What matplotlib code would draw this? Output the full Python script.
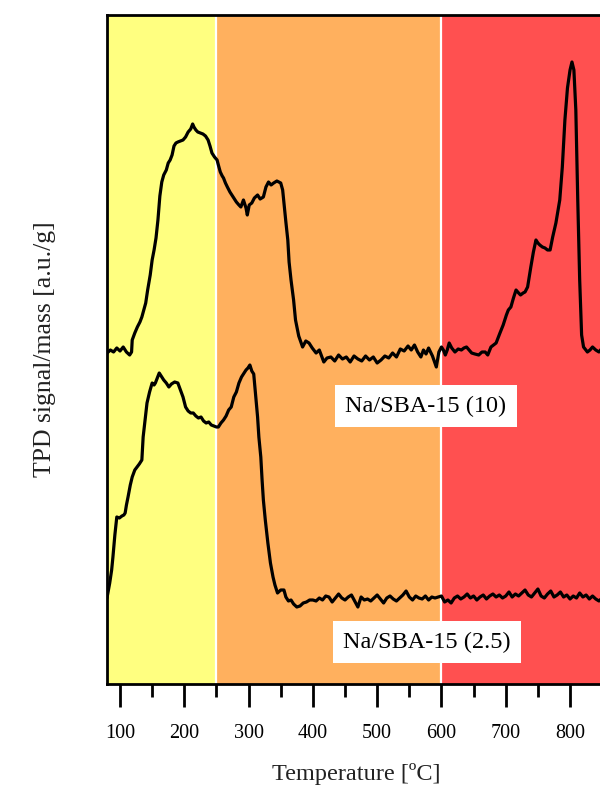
import matplotlib
matplotlib.use("Agg")
import matplotlib.pyplot as plt
from matplotlib.ticker import MultipleLocator

plt.rcParams['font.family'] = ['Liberation Serif', 'DejaVu Serif']

# Temperature regions [ºC]
region_edges = [79, 250, 600, 855]
region_colors = ['#FFFF80', '#FFB05E', '#FF5050']

# Na/SBA-15 (10) trace (temperature, signal in pixel-depth units)
t10 = [80, 85, 90, 95, 100, 105, 110, 115, 118, 119, 123, 127, 131, 134, 137, 140, 143, 147, 150, 153,
       156, 159, 162, 165, 168, 172, 175, 178, 181, 184, 187, 190, 194, 198, 202, 206, 210, 213, 215, 218,
       221, 225, 229, 233, 237, 240, 243, 247, 251, 253, 256, 259, 261, 264, 267, 271, 276, 281, 285, 288,
       292, 296, 298, 301, 305, 309, 314, 318, 323, 327, 331, 335, 339, 344, 350, 353, 355, 358, 361, 363,
       366, 370, 373, 378, 384, 389, 394, 399, 405, 410, 417, 422, 428, 434, 440, 446, 452, 458, 464, 470,
       476, 482, 488, 494, 500, 506, 512, 518, 524, 530, 536, 542, 548, 553, 558, 563, 568, 572, 576, 580,
       586, 592, 596, 600, 603, 606, 609, 612, 616, 621, 626, 631, 635, 639, 643, 647, 652, 658, 663, 668,
       672, 677, 681, 685, 691, 696, 701, 704, 708, 712, 716, 720, 723, 727, 730, 734, 737, 739, 743, 747,
       750, 753, 757, 761, 765, 769, 773, 778, 784, 788, 792, 796, 800, 803, 806, 809, 812, 815, 818, 821,
       827, 831, 835, 840, 845, 850, 855]
p10 = [353, 350, 352, 348, 351, 347, 352, 355, 352, 340, 333, 327, 322, 317, 310, 303, 290, 275, 260, 250,
       238, 220, 196, 182, 175, 170, 163, 160, 155, 146, 143, 142, 141, 140, 137, 132, 129, 124, 127, 130,
       132, 133, 134, 136, 140, 146, 153, 157, 160, 165, 172, 176, 178, 183, 187, 192, 197, 202, 205, 207,
       200, 208, 215, 205, 203, 198, 195, 199, 197, 187, 182, 185, 183, 181, 183, 190, 203, 222, 240, 262,
       280, 300, 320, 336, 347, 341, 343, 348, 353, 350, 362, 358, 357, 361, 355, 359, 357, 362, 356, 359,
       361, 356, 360, 357, 363, 360, 356, 358, 353, 357, 349, 351, 346, 350, 345, 352, 357, 350, 354, 348,
       356, 367, 352, 347, 350, 355, 350, 343, 348, 352, 349, 350, 348, 347, 350, 353, 354, 355, 352, 352,
       355, 347, 345, 343, 333, 325, 315, 310, 307, 298, 290, 293, 295, 293, 292, 287, 275, 267, 252, 240,
       243, 245, 247, 248, 250, 250, 237, 223, 200, 167, 120, 88, 70, 62, 70, 110, 200, 280, 335, 347,
       352, 350, 347, 350, 352, 348, 346]

# Na/SBA-15 (2.5) trace (temperature, signal in pixel-depth units)
t25 = [80, 82, 84, 87, 89, 92, 95, 99, 103, 106, 108, 110, 112.5, 116, 119, 123, 126.5, 130, 134, 136,
       139, 142, 146, 150, 153, 155, 158, 161, 164, 168, 172, 176, 180, 185, 190, 194, 198, 202, 206, 210,
       214, 218, 222, 226, 230, 234, 238, 242, 246, 250, 253, 257, 261, 265, 269, 273, 277, 281, 285, 289,
       293, 296, 299, 302, 305, 308, 311, 314, 316, 319, 321, 323, 326, 330, 334, 338, 341, 345, 350, 355,
       358, 362, 366, 370, 375, 380, 385, 390, 395, 400, 405, 410, 415, 420, 425, 430, 435, 440, 445, 450,
       455, 460, 465, 470, 475, 480, 485, 490, 495, 500, 505, 510, 515, 520, 525, 530, 535, 540, 545, 550,
       555, 560, 565, 570, 575, 580, 585, 590, 595, 600, 605, 610, 615, 620, 625, 630, 635, 640, 645, 650,
       655, 660, 665, 670, 675, 680, 685, 690, 695, 700, 705, 710, 715, 720, 725, 730, 735, 740, 745, 750,
       755, 760, 765, 770, 775, 780, 785, 790, 795, 800, 805, 810, 815, 820, 825, 830, 835, 840, 845, 850,
       855]
p25 = [597, 590, 583, 570, 557, 535, 517, 518, 516, 515, 513, 505, 497, 485, 477, 470, 467, 464, 460, 437,
       420, 403, 392, 383, 385, 383, 378, 373, 376, 380, 383, 387, 384, 382, 383, 390, 397, 407, 411, 413,
       413, 416, 418, 417, 421, 423, 422, 425, 426, 427, 427, 423, 420, 416, 410, 407, 397, 392, 383, 377,
       373, 370, 368, 365, 371, 374, 395, 417, 437, 457, 480, 500, 520, 543, 563, 577, 585, 593, 590, 590,
       597, 601, 600, 604, 607, 606, 603, 602, 600, 600, 601, 598, 600, 596, 597, 602, 598, 594, 598, 600,
       597, 595, 601, 607, 597, 600, 599, 601, 598, 595, 599, 603, 598, 596, 599, 601, 598, 595, 591, 597,
       600, 596, 598, 599, 596, 600, 597, 598, 597, 596, 602, 600, 603, 598, 596, 599, 597, 594, 598, 596,
       600, 597, 595, 599, 596, 594, 597, 595, 598, 596, 592, 597, 594, 596, 593, 590, 595, 597, 593, 589,
       596, 598, 594, 591, 597, 595, 592, 597, 595, 599, 596, 598, 593, 597, 595, 599, 596, 599, 601, 598,
       597]

labels = ['Na/SBA-15 (10)', 'Na/SBA-15 (2.5)']
label_pos = [(426, 406), (427, 642)]  # pixel-space anchors converted below

W, H = 600, 785
fig = plt.figure(figsize=(W / 100, H / 100), dpi=100)
left_px, right_px, top_px, bot_px = 106.5, 605.4, 15, 684
ax = fig.add_axes([left_px / W, 1 - bot_px / H, (right_px - left_px) / W, (bot_px - top_px) / H])

x0, x1 = 79, 855
ax.set_xlim(x0, x1)
ax.set_ylim(0, bot_px - top_px)

for i, c in enumerate(region_colors):
    ax.axvspan(region_edges[i], region_edges[i + 1], color=c, lw=0, zorder=0)
for e in region_edges[1:-1]:
    ax.axvline(e, color='white', lw=1.6, zorder=1)

s10 = [bot_px - v for v in p10]
s25 = [bot_px - v for v in p25]
ax.plot(t10, s10, color='black', lw=2.3, zorder=3, solid_joinstyle='round')
ax.plot(t25, s25, color='black', lw=2.3, zorder=3, solid_joinstyle='round')

def px_to_data(px, py):
    tx = x0 + (px - left_px) / (right_px - left_px) * (x1 - x0)
    return tx, bot_px - py

for lab, (px, py) in zip(labels, label_pos):
    tx, ty = px_to_data(px, py)
    ax.text(tx, ty, lab, fontsize=17.5, ha='center', va='center', zorder=4,
            bbox=dict(boxstyle='square,pad=0.42', fc='white', ec='none'))

ax.xaxis.set_major_locator(MultipleLocator(100))
ax.xaxis.set_minor_locator(MultipleLocator(50))
ax.set_yticks([])
ax.tick_params(axis='x', which='major', direction='out', length=16.5, width=2, labelsize=14.5, pad=12)
ax.tick_params(axis='x', which='minor', direction='out', length=9.5, width=2)
for sp in ax.spines.values():
    sp.set_linewidth(2)
    sp.set_zorder(5)

ax.set_xlabel('Temperature [ºC]', fontsize=17.5, labelpad=14.5, color='#222222')
ax.set_ylabel('TPD signal/mass [a.u./g]', fontsize=18.5, labelpad=36, color='#222222')

fig.savefig('out.png', dpi=100, facecolor='white')
